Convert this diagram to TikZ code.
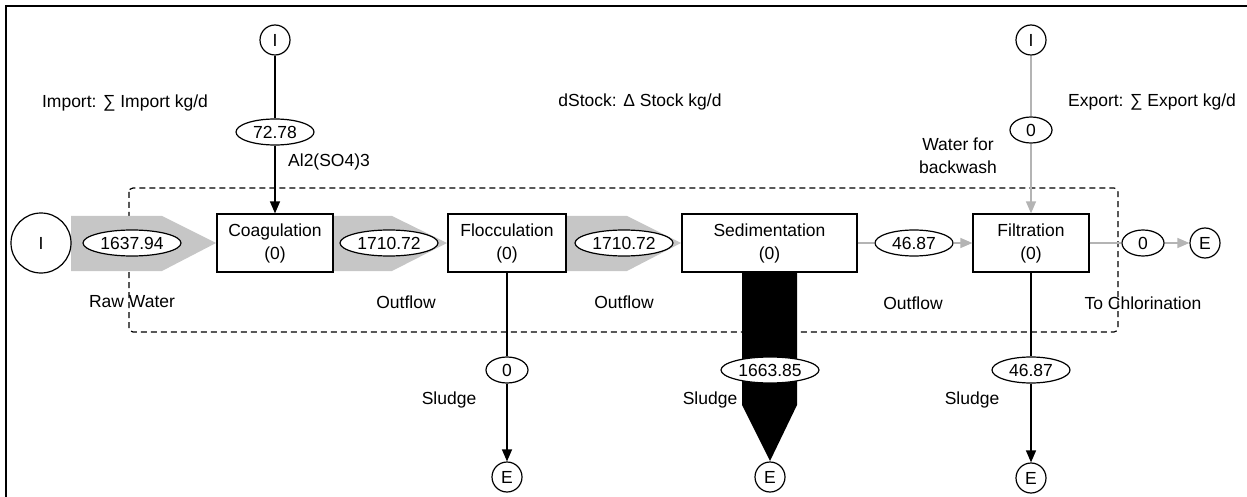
\documentclass[tikz,border=0pt]{standalone}
\usepackage{fontspec}
\setmainfont{Liberation Sans}
\usetikzlibrary{shapes.geometric,arrows.meta}
\definecolor{flowgray}{HTML}{C6C6C6}
\definecolor{linegray}{HTML}{B4B4B4}
\tikzset{
  procbox/.style={draw, fill=white, line width=1.2pt, align=center, inner sep=0pt, minimum height=58pt},
  val/.style={ellipse, draw, fill=white, line width=1.2pt, inner sep=0pt, minimum height=26pt},
  term/.style={circle, draw, fill=white, line width=1.2pt, inner sep=0pt, minimum size=30pt},
  lbl/.style={inner sep=0pt, align=center},
  conn/.style={line width=1.3pt},
  grayconn/.style={line width=1.3pt, draw=linegray},
  blackarrow/.style={-{Triangle[length=12pt,width=10pt]}},
  grayarrow/.style={-{Triangle[length=12pt,width=10pt,color=linegray]}}
}
\begin{document}
\begin{tikzpicture}[x=1pt,y=-1pt,font=\fontsize{17.5}{23}\selectfont]
\useasboundingbox (0,0) rectangle (1247,497);
% frame (top and left edges)
\draw[line width=2.5pt] (6,497) -- (6,6) -- (1247,6);
% system boundary
\draw[line width=1.2pt, dash pattern=on 6pt off 4pt, rounded corners=4pt] (129,188) rectangle (1118,332);
% wide gray flows
\fill[flowgray] (71,216) -- (162,216) -- (216,243) -- (162,271) -- (71,271) -- cycle;
\fill[flowgray] (333,216) -- (392,216) -- (447,243) -- (392,271) -- (333,271) -- cycle;
\fill[flowgray] (566,216) -- (627,216) -- (681,243) -- (627,271) -- (566,271) -- cycle;
% black sludge flow
\fill[black] (742,272) -- (797,272) -- (797,405) -- (770,461) -- (742,405) -- cycle;
% process boxes
\node[procbox, minimum width=116pt] (coag) at (275,243) {Coagulation\\(0)};
\node[procbox, minimum width=118pt] (floc) at (507,243) {Flocculation\\(0)};
\node[procbox, minimum width=175pt] (sed) at (769.5,243) {Sedimentation\\(0)};
\node[procbox, minimum width=116pt] (filt) at (1031,243) {Filtration\\(0)};
% terminals
\node[term, minimum size=60pt] (Iraw) at (41,243) {I};
\node[term] (Ial) at (275,40) {I};
\node[term] (Iback) at (1031,40) {I};
\node[term] (Efloc) at (507,477) {E};
\node[term] (Esed) at (770,477) {E};
\node[term] (Efilt) at (1031,478) {E};
\node[term] (Echl) at (1205,243) {E};
% values
\node[val, minimum width=98pt] (vraw) at (132,243) {1637.94};
\node[val, minimum width=98pt] (vout1) at (389,243) {1710.72};
\node[val, minimum width=98pt] (vout2) at (624,243) {1710.72};
\node[val, minimum width=78pt] (vout3) at (914,243) {46.87};
\node[val, minimum width=42pt] (vchl) at (1143,243) {0};
\node[val, minimum width=78pt] (val) at (275,132) {72.78};
\node[val, minimum width=42pt] (vback) at (1031,130) {0};
\node[val, minimum width=42pt] (vsl1) at (507,370) {0};
\node[val, minimum width=98pt] (vsl2) at (770,370) {1663.85};
\node[val, minimum width=78pt] (vsl3) at (1031,370) {46.87};
% connectors
\draw[conn] (Ial) -- (val);
\draw[conn, blackarrow] (val) -- (coag);
\draw[conn] (floc) -- (vsl1);
\draw[conn, blackarrow] (vsl1) -- (Efloc);
\draw[grayconn] (sed.east) -- (vout3);
\draw[grayconn, grayarrow] (vout3) -- (filt.west);
\draw[grayconn] (filt.east) -- (vchl);
\draw[grayconn, grayarrow] (vchl) -- (Echl);
\draw[grayconn] (Iback) -- (vback);
\draw[grayconn, grayarrow] (vback) -- (filt.north);
\draw[conn] (filt) -- (vsl3);
\draw[conn, blackarrow] (vsl3) -- (Efilt);
% labels
\node[lbl] (limp) at (125,103) {Import: ∑ Import kg/d};
\node[lbl] (lstock) at (640,102) {dStock: Δ Stock kg/d};
\node[lbl] (lexp) at (1152,102) {Export: ∑ Export kg/d};
\node[lbl, anchor=west] (lal) at (288,162) {Al2(SO4)3};
\node[lbl] (lback) at (958,156) {Water for\\backwash};
\node[lbl] (lraw) at (132,302) {Raw Water};
\node[lbl] (lo1) at (406,302) {Outflow};
\node[lbl] (lo2) at (624,302) {Outflow};
\node[lbl] (lo3) at (913,303) {Outflow};
\node[lbl] (lchl) at (1143,303) {To Chlorination};
\node[lbl] (ls1) at (449,400) {Sludge};
\node[lbl] (ls2) at (710,400) {Sludge};
\node[lbl] (ls3) at (972,400) {Sludge};
\end{tikzpicture}
\end{document}
